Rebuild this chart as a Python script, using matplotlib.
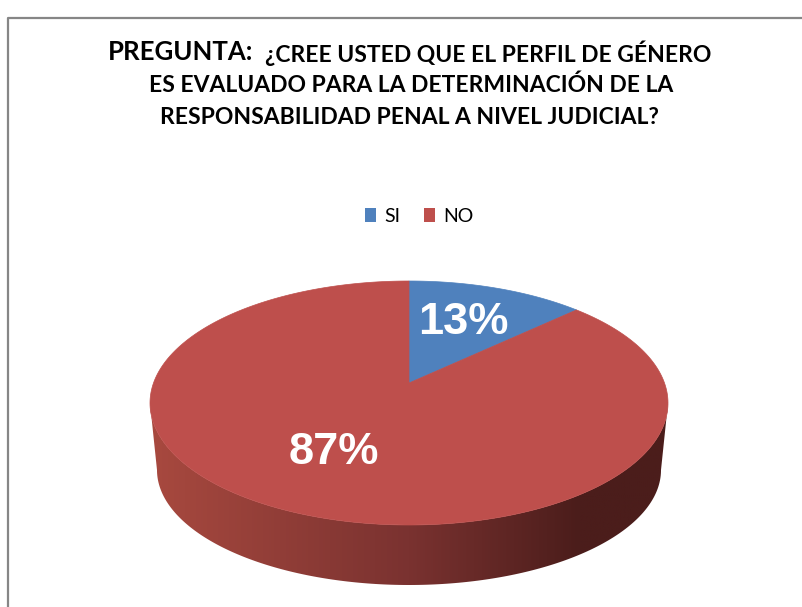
import numpy as np
import matplotlib
matplotlib.use('Agg')
import matplotlib.pyplot as plt
from matplotlib.colors import LinearSegmentedColormap
from matplotlib.patches import Patch, Polygon

categories = ['SI', 'NO']
values = [13, 87]
colors = ['#4f81bd', '#be4f4c']

title_lead = 'PREGUNTA:'
title_first = '¿CREE USTED QUE EL PERFIL DE GÉNERO'
title_lines = ['ES EVALUADO PARA LA DETERMINACIÓN DE LA',
               'RESPONSABILIDAD PENAL A NIVEL JUDICIAL?']

# pie geometry, in pixels of the picture
cx, cy, a, b = 409, 403, 259, 122
low_cy, low_a, low_b = 470, 252, 115
# how far the perspective moves the centre of the pie up
persp = 0.164


def project(t):
    # t is clockwise from the top, the circle is tilted so centre moves up
    u, v = np.sin(t), np.cos(t)
    d = 1 + persp * v
    u2 = u * np.sqrt(1 - persp ** 2) / d
    v2 = (v + persp) / d
    return cx + a * u2, cy - b * v2


fig = plt.figure(figsize=(8.03, 6.07), dpi=100)
ax = fig.add_axes([0, 0, 1, 1])
ax.set_xlim(0, 803)
ax.set_ylim(607, 0)
ax.axis('off')

# chart border, only top and left are in the picture
ax.plot([8, 8, 803], [607, 18, 18], color='#868686', lw=1.6, zorder=1)

# side of the pie with the gradient
s = np.linspace(-np.pi / 2, np.pi / 2, 200)
top_edge = np.column_stack([cx + a * np.sin(s), cy + b * np.cos(s)])
low_edge = np.column_stack([cx + low_a * np.sin(s), low_cy + low_b * np.cos(s)])
side = Polygon(np.vstack([top_edge, low_edge[::-1]]), closed=True,
               transform=ax.transData, fc='none', ec='none')
ax.add_patch(side)
cmap = LinearSegmentedColormap.from_list('side', [(0, '#a8493f'), (0.5, '#7a3230'),
                                                  (0.83, '#4b1d1b'), (1, '#4b1d1b')])
im = ax.imshow(np.linspace(0, 1, 256).reshape(1, -1), cmap=cmap, aspect='auto',
               extent=(150, 668, 590, 400), zorder=2)
im.set_clip_path(side)
ax.set_xlim(0, 803)
ax.set_ylim(607, 0)

# top of the pie
start = 0
apex = (cx, cy - b * persp)
for val, col in zip(values, colors):
    end = start + val / sum(values) * 2 * np.pi
    t = np.linspace(start, end, 300)
    x, y = project(t)
    pts = np.vstack([[apex], np.column_stack([x, y])])
    ax.add_patch(Polygon(pts, closed=True, fc=col, ec=col, lw=0.5, zorder=3))
    start = end

# percent labels
ax.text(463, 323, '%d%%' % values[0], color='white', fontsize=32.5, fontweight='bold',
        family='Liberation Sans', ha='center', va='center', zorder=4)
ax.text(334, 453, '%d%%' % values[1], color='white', fontsize=32.5, fontweight='bold',
        family='Liberation Sans', ha='center', va='center', zorder=4)

# title
ax.text(108, 52, title_lead, fontsize=18.5, fontweight='bold', family='Lato',
        ha='left', va='center', color='black')
ax.text(265, 53, title_first, fontsize=16.5, fontweight='bold', family='Lato',
        ha='left', va='center', color='black')
ax.text(411, 85, title_lines[0], fontsize=16.5, fontweight='bold', family='Lato',
        ha='center', va='center', color='black')
ax.text(409, 117, title_lines[1], fontsize=16.5, fontweight='bold', family='Lato',
        ha='center', va='center', color='black')

# legend
handles = [Patch(fc=c, ec='none', label=n) for c, n in zip(colors, categories)]
ax.legend(handles=handles, loc='center', bbox_to_anchor=(419.5 / 803, 1 - 216 / 607),
          ncol=2, frameon=False, handlelength=0.55, handleheight=0.75, handletextpad=0.45,
          columnspacing=1.2, prop={'family': 'Lato', 'size': 14})

fig.savefig('out.png', dpi=100)
